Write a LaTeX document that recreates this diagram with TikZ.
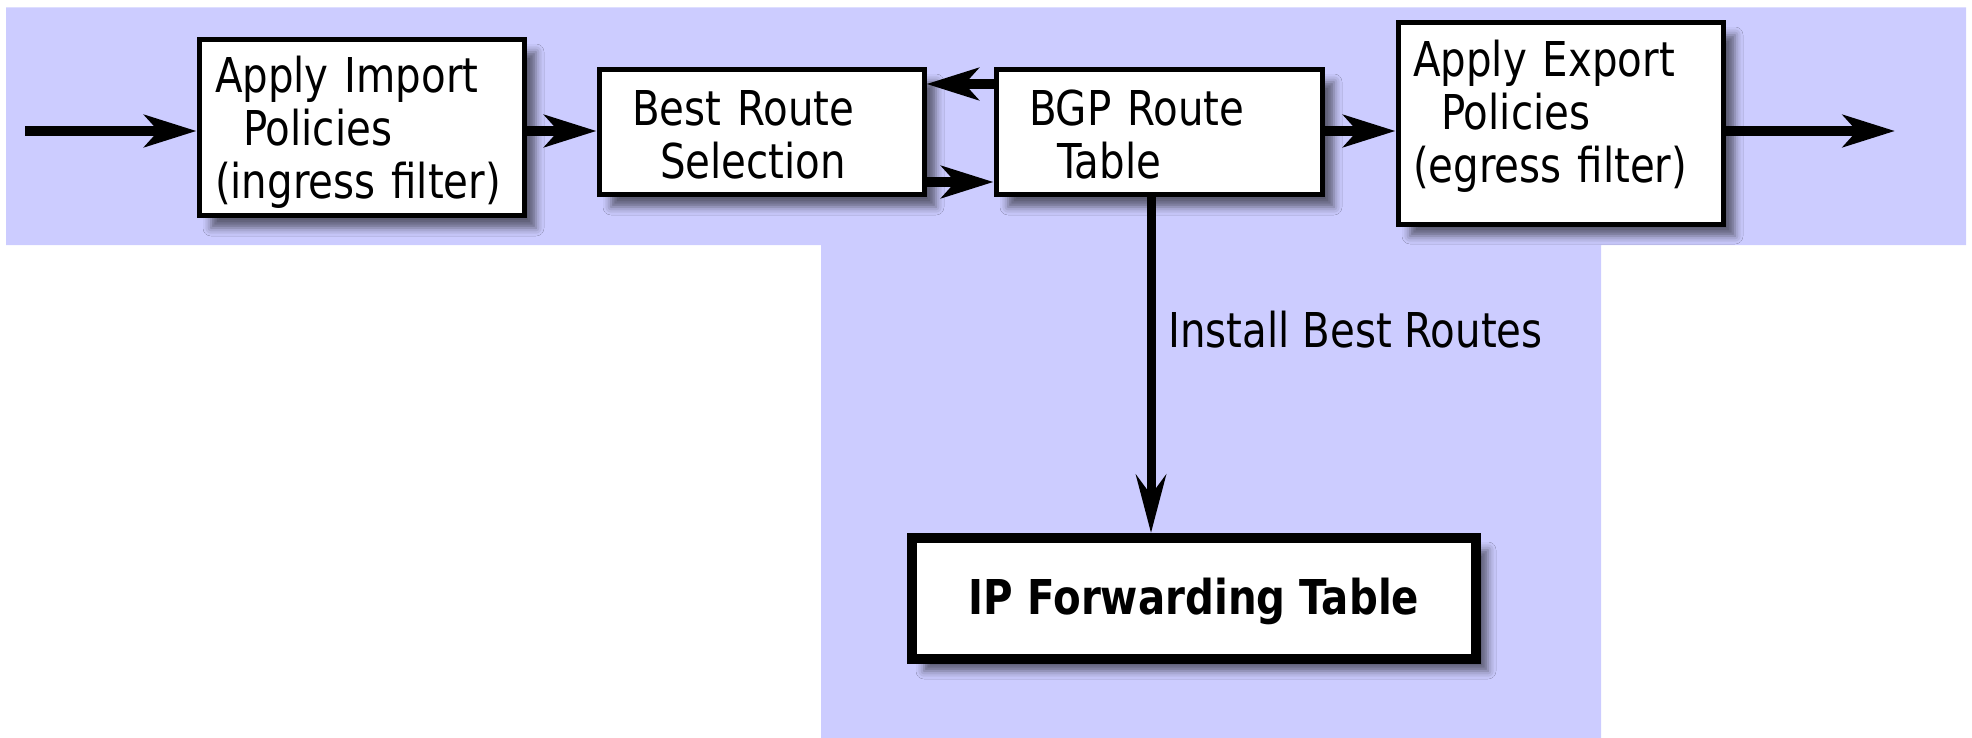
\documentclass[tikz,border=0pt]{standalone}
\usepackage{fontspec}
\setmainfont{DejaVu Sans}[FakeStretch=0.84]
\usetikzlibrary{arrows.meta,shadows.blur}
\definecolor{bandc}{HTML}{CCCCFF}
\tikzset{
  box/.style={draw, line width=2.5pt, fill=white, align=left, inner ysep=0pt,
    font=\fontsize{24pt}{26.5pt}\selectfont,
    blur shadow={shadow xshift=6pt, shadow yshift=-6pt, shadow blur radius=4pt,
      shadow opacity=55}},
  arr/.style={line width=5pt, -{Stealth[length=26pt, width=16pt, inset=7pt]}},
  varr/.style={line width=4.5pt, -{Stealth[length=29pt, width=15pt, inset=10pt]}},
  lbl/.style={font=\fontsize{24pt}{26.5pt}\selectfont, inner sep=0pt}
}
\begin{document}
\begin{tikzpicture}[x=0.5pt, y=-0.5pt]
\useasboundingbox (0,0) rectangle (1972,738);
\fill[bandc] (6,7.5) -- (1966,7.5) -- (1966,245) -- (1601,245) -- (1601,738)
  -- (821,738) -- (821,245) -- (6,245) -- cycle;

\node[box, minimum width=162.5pt, minimum height=88pt, text width=146.5pt, inner xsep=8pt]
  (b1) at (361.5,128) {\rule{0pt}{22pt}Apply Import\\\hspace*{14pt}Policies\\(ingress filter)};
\node[box, minimum width=162.5pt, minimum height=62.5pt, text width=129.5pt, inner xsep=16.5pt]
  (b2) at (761.5,132.5) {\rule{0pt}{20pt}Best Route\\\hspace*{14pt}Selection};
\node[box, minimum width=163pt, minimum height=62.5pt, text width=130pt, inner xsep=16.5pt]
  (b3) at (1159,132.5) {\rule{0pt}{20pt}BGP Route\\\hspace*{14pt}Table};
\node[box, minimum width=162.5pt, minimum height=100.5pt, text width=147.5pt, inner xsep=7.5pt]
  (b4) at (1560.5,123.5) {Apply Export\\\hspace*{14pt}Policies\\(egress filter)\rule[-12pt]{0pt}{12pt}};
\node[box, line width=5pt, align=center, minimum width=282pt, minimum height=60.5pt,
  font=\fontsize{24pt}{26.5pt}\selectfont\bfseries]
  (b5) at (1194,598.5) {\rule{0pt}{21pt}IP Forwarding Table};

\coordinate (ax) at (0,131);
\coordinate (up) at (0,84);
\coordinate (lo) at (0,182);
\coordinate (vx) at (1151,0);
\coordinate (in) at (25,131);
\coordinate (out) at (1895,131);

\draw[arr] (in) -- (in -| b1.west);
\draw[arr] (b1.east |- ax) -- (b2.west |- ax);
\draw[arr] (b3.west |- up) -- (b2.east |- up);
\draw[arr] (b2.east |- lo) -- (b3.west |- lo);
\draw[arr] (b3.east |- ax) -- (b4.west |- ax);
\draw[arr] (b4.east |- ax) -- (out);
\draw[varr] (b3.south -| vx) -- (b5.north -| vx);
\node[lbl, anchor=west] (ilbl) at (1168,330) {Install Best Routes};
\end{tikzpicture}
\end{document}
